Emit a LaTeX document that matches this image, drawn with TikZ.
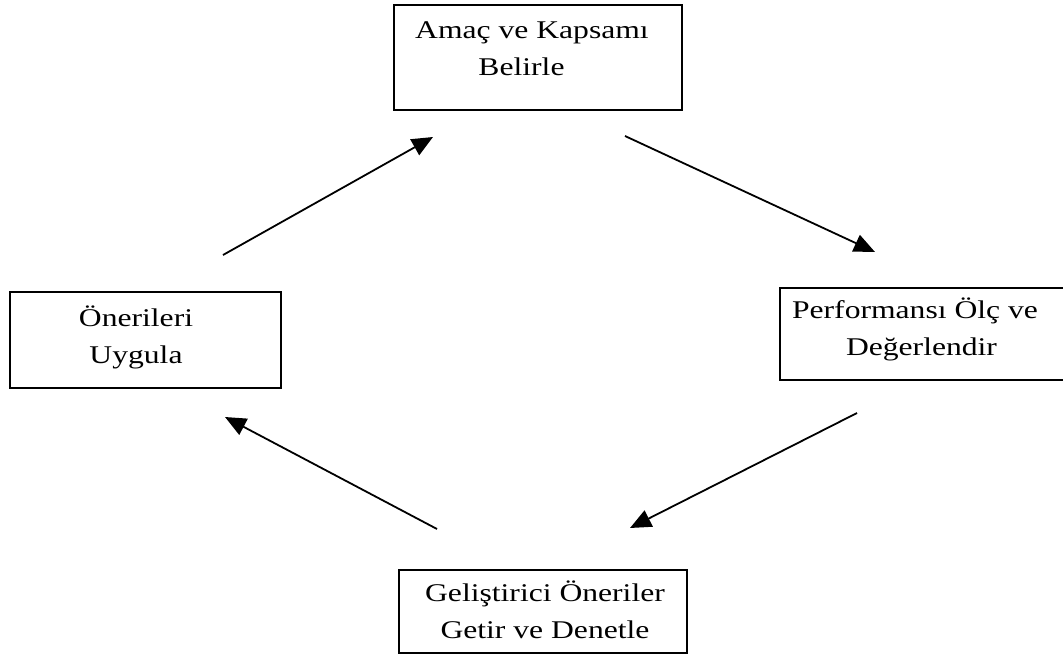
\documentclass[tikz,border=0pt]{standalone}
\usepackage{fontspec}
\setmainfont{Liberation Serif}[FakeStretch=1.24]
\usetikzlibrary{arrows.meta}
\begin{document}
\begin{tikzpicture}[x=1pt,y=-1pt,
  stagebox/.style={draw, line width=1.4pt, inner sep=0pt},
  stagetext/.style={align=center, inner sep=0pt, anchor=base,
    font=\fontsize{25.5}{37}\selectfont},
  flow/.style={line width=1.8pt, -{Triangle[length=21pt,width=18pt]}}]
\clip (0,0) rectangle (1063,667);

% stage frames
\node[stagebox, minimum width=288pt, minimum height=105pt] (amac) at (538,57.5) {};
\node[stagebox, minimum width=271pt, minimum height=96pt] (uygula) at (145.5,340) {};
\node[stagebox, minimum width=286pt, minimum height=92pt] (olc) at (923,334) {};
\node[stagebox, minimum width=288pt, minimum height=83pt] (getir) at (543,611.5) {};

% stage labels (anchored on the baseline of the last line)
\node[stagetext] (amacText) at (532,75) {Amaç ve Kapsamı\\Belirle\hspace*{21pt}};
\node[stagetext] (uygulaText) at (136,363) {Önerileri\\Uygula};
\node[stagetext] (olcText) at (915,355) {Performansı Ölç ve\\\hspace*{13pt}Değerlendir};
\node[stagetext] (getirText) at (545,638) {Geliştirici Öneriler\\Getir ve Denetle};

% cycle arrows
\coordinate (f1s) at (223,255);
\coordinate (f1e) at (433,137);
\coordinate (f2s) at (625,136);
\coordinate (f2e) at (875,252);
\coordinate (f3s) at (857,413);
\coordinate (f3e) at (630,528);
\coordinate (f4s) at (437,529);
\coordinate (f4e) at (225,417);
\draw[flow] (f1s) -- (f1e);
\draw[flow] (f2s) -- (f2e);
\draw[flow] (f3s) -- (f3e);
\draw[flow] (f4s) -- (f4e);
\end{tikzpicture}
\end{document}
